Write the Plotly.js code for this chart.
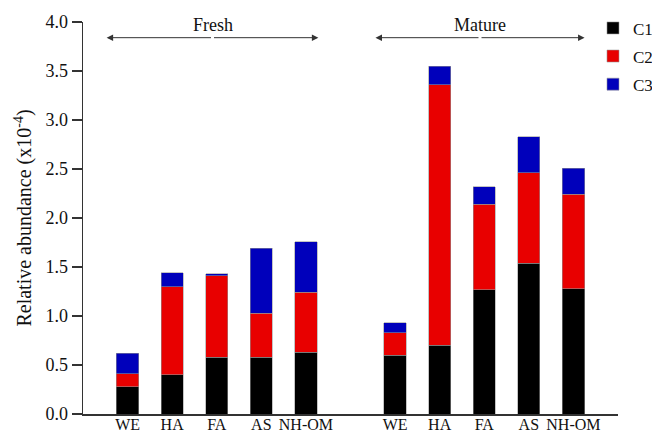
<!DOCTYPE html>
<html>
<head>
<meta charset="utf-8">
<script src="https://cdn.plot.ly/plotly-3.0.1.min.js"></script>
<style>html,body{margin:0;padding:0;background:#fff;}#chart{width:652px;height:433px;}</style>
</head>
<body>
<div id="chart"></div>
<script>
// Categories
const fractions = ["WE", "HA", "FA", "AS", "NH-OM"];
const groups = ["Fresh", "Mature"];
// Segment values (x10^-4), Fresh then Mature
const freshC1 = [0.28, 0.40, 0.58, 0.58, 0.63];
const freshC2 = [0.13, 0.90, 0.83, 0.45, 0.61];
const freshC3 = [0.21, 0.14, 0.02, 0.66, 0.52];
const matureC1 = [0.60, 0.70, 1.27, 1.54, 1.28];
const matureC2 = [0.23, 2.66, 0.87, 0.92, 0.96];
const matureC3 = [0.10, 0.19, 0.18, 0.37, 0.27];
const seriesNames = ["C1", "C2", "C3"];
const seriesColors = ["#000000", "#e80000", "#0000bb"];

// slot positions: fresh 0..4, mature 6..10
const freshX = fractions.map((_, i) => i);
const matureX = fractions.map((_, i) => i + 6);
const xs = freshX.concat(matureX);
const ticktext = fractions.concat(fractions);
const series = [freshC1.concat(matureC1), freshC2.concat(matureC2), freshC3.concat(matureC3)];

const font = '"Liberation Serif", "Times New Roman", Times, serif';
const traces = series.map((vals, k) => ({
  type: "bar",
  name: seriesNames[k],
  x: xs,
  y: vals,
  width: 0.5,
  legendgroup: seriesNames[k],
  marker: {color: seriesColors[k], line: {color: "rgba(150,150,150,0.7)", width: 0.8}},
  hoverinfo: "none"
}));

function spanAnnotations(x0, x1, label, yArrow, yText) {
  const c = (x0 + x1) / 2;
  const arrowOpts = {showarrow: true, text: "", xref: "x", yref: "y", axref: "x", ayref: "y",
    arrowhead: 2, arrowsize: 1.3, arrowwidth: 1, arrowcolor: "#333", y: yArrow, ay: yArrow};
  return [
    Object.assign({}, arrowOpts, {x: x0, ax: c}),
    Object.assign({}, arrowOpts, {x: x1, ax: c}),
    {x: c, y: yText, xref: "x", yref: "y", text: label, showarrow: false,
     font: {family: font, size: 18, color: "#111"}}
  ];
}

const annotations = spanAnnotations(-0.47, 4.28, groups[0], 3.84, 3.97)
  .concat(spanAnnotations(5.56, 10.25, groups[1], 3.84, 3.97));

const layout = {
  width: 652, height: 433,
  margin: {l: 83, r: 34, t: 22, b: 19, autoexpand: false},
  paper_bgcolor: "#fff", plot_bgcolor: "#fff",
  barmode: "stack",
  showlegend: true,
  font: {family: font, color: "#111"},
  legend: {xref: "container", yref: "container", x: 0.9095, y: 0.976, xanchor: "left", yanchor: "top",
    traceorder: "grouped", tracegroupgap: 3, font: {family: font, size: 17, color: "#111"},
    bgcolor: "rgba(0,0,0,0)"},
  xaxis: {range: [-1, 11], tickvals: xs, ticktext: ticktext, showline: true, linecolor: "#333",
    linewidth: 1.5, ticks: "", showgrid: false, zeroline: false, ticklabelstandoff: -5,
    tickfont: {family: font, size: 16, color: "#111"}, fixedrange: true, automargin: false},
  yaxis: {range: [0, 4], dtick: 0.5, tickformat: ".1f", showline: true, linecolor: "#333",
    linewidth: 1.5, ticks: "outside", ticklen: 10, tickcolor: "#333", tickwidth: 1.2,
    showgrid: false, zeroline: false, automargin: false, tickfont: {family: font, size: 18, color: "#111"},
    title: {text: "Relative abundance (x10<sup>-4</sup>)", font: {family: font, size: 20, color: "#111"}, standoff: 8}},
  annotations: annotations
};

Plotly.newPlot("chart", traces, layout, {displayModeBar: false, staticPlot: true});
</script>
</body>
</html>
